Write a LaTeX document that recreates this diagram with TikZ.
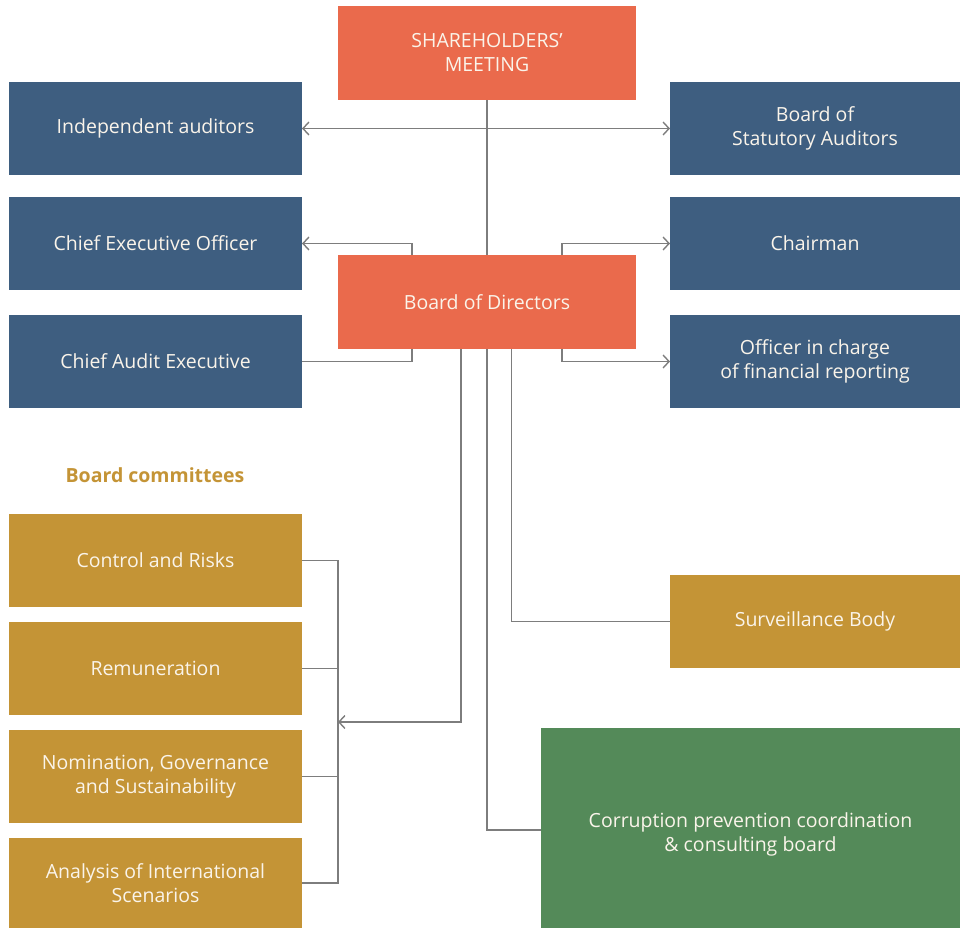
\documentclass[tikz,border=0pt]{standalone}
\usepackage{fontspec}
\setmainfont{Open Sans}
\usetikzlibrary{arrows.meta,calc}
\definecolor{gorange}{RGB}{234,106,76}
\definecolor{gblue}{RGB}{62,94,128}
\definecolor{ggold}{RGB}{196,148,54}
\definecolor{ggreen}{RGB}{84,138,89}
\definecolor{gline}{RGB}{125,125,125}
\definecolor{gtext}{RGB}{250,244,234}
\tikzset{
  boxfont/.style={font=\fontsize{19.5}{24}\selectfont},
  box/.style={anchor=north west, inner sep=0pt, outer sep=0pt, align=center,
    text=gtext, boxfont, minimum width=293pt, minimum height=93pt},
  orangebox/.style={box, fill=gorange, minimum width=298pt, minimum height=94pt},
  bluebox/.style={box, fill=gblue},
  goldbox/.style={box, fill=ggold},
  greenbox/.style={box, fill=ggreen, minimum width=419pt, minimum height=200pt},
  link/.style={draw=gline, line width=1.4pt},
  arr/.style={link, -{Straight Barb[length=6pt,width=13pt,line width=1.4pt]}},
  biarr/.style={link, {Straight Barb[length=6pt,width=13pt,line width=1.4pt]}-{Straight Barb[length=6pt,width=13pt,line width=1.4pt]}}
}
\begin{document}
\begin{tikzpicture}[x=1pt,y=-1pt]
\useasboundingbox (0,0) rectangle (960,928);
% governing bodies
\node[orangebox] (sh) at (338,6) {SHAREHOLDERS'\\MEETING};
\node[orangebox] (bod) at (338,255) {Board of Directors};
% left column
\node[bluebox] (ia) at (9,82) {Independent auditors};
\node[bluebox] (ceo) at (9,197) {Chief Executive Officer};
\node[bluebox] (cae) at (9,315) {Chief Audit Executive};
% right column
\node[bluebox, minimum width=290pt] (bsa) at (670,82) {Board of\\Statutory Auditors};
\node[bluebox, minimum width=290pt] (ch) at (670,197) {Chairman};
\node[bluebox, minimum width=290pt] (off) at (670,315) {Officer in charge\\of financial reporting};
% committees
\node[anchor=center, text=ggold, font=\fontsize{19.5}{24}\selectfont\bfseries] (bc) at (155,475) {Board committees};
\node[goldbox] (cr) at (9,514) {Control and Risks};
\node[goldbox] (rem) at (9,622) {Remuneration};
\node[goldbox] (nom) at (9,730) {Nomination, Governance\\and Sustainability};
\node[goldbox, minimum height=90pt] (an) at (9,838) {Analysis of International\\Scenarios};
\node[goldbox, minimum width=290pt] (sb) at (670,575) {Surveillance Body};
% anti-corruption board: text sits a little below the box centre
\node[greenbox, label={[text=gtext, boxfont, align=center, yshift=-6pt]center:{Corruption prevention coordination\\\& consulting board}}] (cp) at (541,728) {};
\coordinate (cbk) at (338,722);
% connectors
\draw[link] (sh.south) -- (bod.north);
\draw[biarr] (ia.east) -- (bsa.west);
\draw[arr] ($(bod.north west)+(74,0)$) |- (ceo.east);
\draw[arr] ($(bod.north east)+(-74,0)$) |- (ch.west);
\draw[link] ($(bod.south west)+(74,0)$) |- (cae.east);
\draw[arr] ($(bod.south east)+(-74,0)$) |- (off.west);
\draw[arr] ($(bod.south)+(-26,0)$) |- (cbk);
\draw[link] ($(bod.south)+(24.5,0)$) |- (sb.west);
\draw[link] (bod.south) |- ($(cp.west)+(0,2)$);
\draw[link] (cr.east) -| (an.east -| cbk) -- (an.east);
\draw[link] (rem.east) -- (rem.east -| cbk);
\draw[link] (nom.east) -- (nom.east -| cbk);
\end{tikzpicture}
\end{document}
